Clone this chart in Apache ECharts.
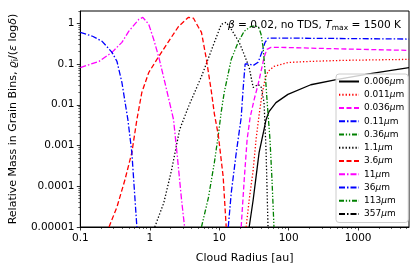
<!DOCTYPE html>
<html><head><meta charset="utf-8">
<script src="https://cdn.jsdelivr.net/npm/echarts@6/dist/echarts.min.js"></script>
<style>html,body{margin:0;padding:0;background:#fff}#c{width:420px;height:270px}</style>
</head><body><div id="c"></div>
<script>
// Series names (grain sizes)
const sizeNames = ['0.006μm','0.011μm','0.036μm','0.11μm','0.36μm','1.1μm','3.6μm','11μm','36μm','113μm','357μm'];
const xTicks = [0.1, 1, 10, 100, 1000];
const yTicks = [0.00001, 0.0001, 0.001, 0.01, 0.1, 1];
const xMinorTicks = [0.2,0.3,0.4,0.5,0.6,0.7,0.8,0.9, 2,3,4,5,6,7,8,9, 20,30,40,50,60,70,80,90, 200,300,400,500,600,700,800,900, 2000,3000,4000,5000];
const yMinorTicks = [2e-5,3e-5,4e-5,5e-5,6e-5,7e-5,8e-5,9e-5, 2e-4,3e-4,4e-4,5e-4,6e-4,7e-4,8e-4,9e-4, 0.002,0.003,0.004,0.005,0.006,0.007,0.008,0.009, 0.02,0.03,0.04,0.05,0.06,0.07,0.08,0.09, 0.2,0.3,0.4,0.5,0.6,0.7,0.8,0.9, 2];

// radius [au] and relative mass, per grain size
const r0006 = [27, 30.8, 33.9, 37.5, 44.2, 47.2, 52.1, 65.6, 97.5, 208, 506, 1500, 5400];
const m0006 = [1e-5, 4.6e-5, 1.7e-4, 6.7e-4, 0.0025, 0.0043, 0.0068, 0.0113, 0.018, 0.031, 0.042, 0.058, 0.082];
const r0011 = [24.4, 27, 30.8, 33.9, 37.5, 41.4, 45.7, 50.4, 61.4, 97.5, 208, 617, 5400];
const m0011 = [1e-5, 4.6e-5, 2.5e-4, 0.0014, 0.0057, 0.0178, 0.042, 0.066, 0.087, 0.109, 0.116, 0.123, 0.13];
const r0036 = [20.7, 22.9, 25.2, 27.8, 31.8, 36.3, 40, 44.2, 48.7, 55.6, 77.3, 558, 5400];
const m0036 = [1e-5, 1.44e-4, 0.0014, 0.0048, 0.0134, 0.0315, 0.066, 0.146, 0.229, 0.256, 0.256, 0.235, 0.216];
const r011 = [13.5, 14.9, 17.6, 20.7, 22.1, 23.6, 27, 30.8, 36.3, 41.4, 45.7, 50.4, 150, 5400];
const m011 = [1e-5, 6.9e-5, 6.7e-4, 0.0048, 0.025, 0.1, 0.1, 0.092, 0.11, 0.2, 0.34, 0.43, 0.43, 0.41];
const r036 = [5.55, 6.98, 8.51, 9.7, 10.7, 11.8, 14.9, 18.7, 22.9, 28.8, 33.9, 37.5, 40, 42.8, 45.7, 48.7, 53.8, 57.5, 61.4];
const m036 = [1e-5, 5.2e-5, 3.8e-4, 0.0018, 0.0068, 0.02, 0.13, 0.34, 0.64, 0.84, 0.86, 0.75, 0.54, 0.26, 0.066, 0.0134, 0.0014, 1.44e-4, 1e-5];
const r1_1 = [1.18, 1.59, 2.06, 2.69, 3.61, 5.55, 6.54, 8.51, 10.7, 12.6, 14.9, 19.4, 22.9, 27, 30.8, 36.3, 40, 44.2, 47.2, 50.4];
const m1_1 = [1e-5, 3.9e-5, 2.5e-4, 0.00245, 0.009, 0.0495, 0.103, 0.34, 0.94, 1.06, 0.71, 0.34, 0.17, 0.082, 0.0265, 0.0315, 0.028, 0.0113, 0.00079, 1e-5];
const r3_6 = [0.259, 0.337, 0.439, 0.552, 0.652, 0.768, 0.967, 1.35, 1.87, 2.6, 3.61, 4.26, 5.02, 5.55, 6.54, 7.71, 8.51, 9.7, 11.4, 12.6];
const m3_6 = [1e-5, 3.1e-5, 1.44e-4, 6.7e-4, 0.0043, 0.02, 0.062, 0.154, 0.36, 0.84, 1.4, 1.33, 0.8, 0.6, 0.13, 0.021, 0.006, 0.0018, 1.7e-4, 1e-5];
const r11 = [0.1, 0.186, 0.286, 0.397, 0.5, 0.696, 0.794, 0.967, 1.14, 1.35, 1.64, 1.93, 2.2, 2.52, 2.87, 3.17];
const m11 = [0.082, 0.116, 0.193, 0.34, 0.64, 1.25, 1.4, 0.94, 0.40, 0.146, 0.037, 0.0113, 0.0043, 0.00045, 0.000046, 0.00001];
const r36 = [0.1, 0.15, 0.206, 0.286, 0.337, 0.397, 0.484, 0.552, 0.652];
const m36 = [0.6, 0.48, 0.36, 0.193, 0.116, 0.0352, 0.0043, 0.00067, 0.00001];
const r113 = [];
const m113 = [];
const r357 = [];
const m357 = [];

const radii = [r0006, r0011, r0036, r011, r036, r1_1, r3_6, r11, r36, r113, r357];
const masses = [m0006, m0011, m0036, m011, m036, m1_1, m3_6, m11, m36, m113, m357];

const colors = ['#000000','#ff0000','#ff00ff','#0000ff','#008000','#000000','#ff0000','#ff00ff','#0000ff','#008000','#000000'];
const dSolid = 'solid', dDot = [1.3, 2], dDash = [5, 2.5], dDashDot = [6, 2, 1.5, 2], dDashDotDot = [5, 1.8, 1.3, 1.8, 1.3, 1.8];
const dashes = [dSolid, dDot, dDash, dDashDot, dDashDotDot, dDot, dDash, dDashDot, dDashDot, dDashDotDot, dDashDot];

const FONT = 'DejaVu Sans';
const chart = echarts.init(document.getElementById('c'), null, {renderer: 'canvas'});

function fmt(v) {
  if (v >= 1) return String(Math.round(v));
  const d = Math.round(-Math.log10(v));
  return v.toFixed(d);
}

const series = sizeNames.map((n, i) => ({
  name: n,
  type: 'line',
  data: radii[i].map((r, k) => [r, masses[i][k]]),
  symbol: 'none',
  showSymbol: false,
  clip: true,
  lineStyle: { color: colors[i], width: 1.3, type: dashes[i] },
  itemStyle: { color: colors[i] },
  color: colors[i],
  animation: false
}));

const minorAxisCommon = {
  type: 'log', logBase: 10,
  axisLine: { show: false },
  axisLabel: { show: false },
  splitLine: { show: false },
  silent: true
};

chart.setOption({
  animation: false,
  backgroundColor: '#ffffff',
  textStyle: { fontFamily: FONT },
  title: {
    text: '{i|β} = 0.02, no TDS, {i|T}{s|max} = 1500 K',
    right: 14, top: 13,
    textStyle: {
      fontFamily: FONT, fontSize: 10.6, fontWeight: 'normal', color: '#000',
      rich: {
        i: { fontFamily: FONT, fontSize: 10.6, fontStyle: 'italic', color: '#000' },
        s: { fontFamily: FONT, fontSize: 7.5, color: '#000', padding: [6, 0, 0, 0] }
      }
    }
  },
  grid: { left: 78, top: 11, right: 11, bottom: 43, show: true, borderColor: '#000', borderWidth: 1, backgroundColor: 'transparent' },
  legend: {
    orient: 'vertical',
    left: 336, top: 74,
    padding: [3, 4, 4, 2],
    itemWidth: 20, itemHeight: 10, itemGap: 4.25,
    itemStyle: { opacity: 0 },
    backgroundColor: 'rgba(255,255,255,0.8)',
    borderColor: '#cccccc', borderWidth: 1, borderRadius: 3,
    data: sizeNames,
    formatter: n => n.replace('μm', '{i|μ}m'),
    textStyle: {
      fontFamily: FONT, fontSize: 9, color: '#000',
      rich: { i: { fontFamily: FONT, fontSize: 9, fontStyle: 'italic', color: '#000' } }
    }
  },
  xAxis: [{
    type: 'log', logBase: 10, min: 0.1, max: 5400, position: 'bottom',
    name: 'Cloud Radius [au]', nameLocation: 'middle', nameGap: 26,
    nameTextStyle: { fontFamily: FONT, fontSize: 11, color: '#000' },
    axisLine: { show: true, lineStyle: { color: '#000', width: 1 } },
    axisTick: { show: true, inside: false, length: 3.5, customValues: xTicks, lineStyle: { color: '#000', width: 0.8 } },
    axisLabel: { fontFamily: FONT, fontSize: 10.5, color: '#000', margin: 6, customValues: xTicks, formatter: v => fmt(v) },
    splitLine: { show: false }
  }, Object.assign({}, minorAxisCommon, {
    min: 0.1, max: 5400, position: 'bottom', offset: 0,
    axisTick: { show: true, inside: false, length: 2, customValues: xMinorTicks, lineStyle: { color: '#000', width: 0.6 } }
  })],
  yAxis: [{
    type: 'log', logBase: 10, min: 0.00001, max: 2, position: 'left',
    name: 'Relative Mass in Grain Bins, {i|ϱ}{s|i}/({i|ε} log{i|δ})',
    nameLocation: 'middle', nameGap: 55, nameRotate: 90,
    nameTextStyle: {
      fontFamily: FONT, fontSize: 11, color: '#000',
      rich: {
        i: { fontFamily: FONT, fontSize: 11, fontStyle: 'italic', color: '#000' },
        s: { fontFamily: FONT, fontSize: 8, color: '#000', padding: [5, 0, 0, 0] }
      }
    },
    axisLine: { show: true, lineStyle: { color: '#000', width: 1 } },
    axisTick: { show: true, inside: false, length: 3.5, customValues: yTicks, lineStyle: { color: '#000', width: 0.8 } },
    axisLabel: { fontFamily: FONT, fontSize: 10.5, color: '#000', margin: 6, customValues: yTicks, formatter: v => fmt(v) },
    splitLine: { show: false }
  }, Object.assign({}, minorAxisCommon, {
    min: 0.00001, max: 2, position: 'left', offset: 0,
    axisTick: { show: true, inside: false, length: 2, customValues: yMinorTicks, lineStyle: { color: '#000', width: 0.6 } }
  })],
  series: series
});
</script></body></html>
